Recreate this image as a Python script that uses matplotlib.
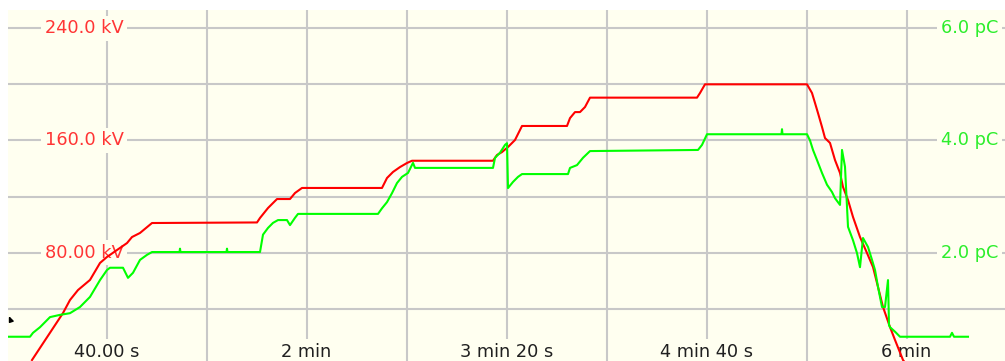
import matplotlib
matplotlib.use("Agg")
import matplotlib.pyplot as plt
import matplotlib.transforms as mtransforms

# test voltage (kV) against time (s)
kv_time = [10.2, 22.6, 25.4, 28.6, 33.4, 37.4, 40.2, 48.2, 50.2, 53.4, 58.2,
           100.2, 101.4, 104.6, 108.2, 113.4, 115.4, 118.2, 150.2, 152.2,
           154.6, 157.4, 160.2, 162.2, 194.6, 196.2, 198.2, 200.6, 203.4,
           206.2, 224.2, 225.4, 227.4, 229.4, 231.4, 233.4, 276.2, 277.4,
           279.4, 320.2, 322.2, 323.4, 324.6, 326.2, 327.4, 329.4, 331.4,
           333.4, 334.6, 336.6, 338.6, 341.4, 344.2, 346.6, 348.6, 350.6,
           353.4, 355.4, 358.6, 362.2]
kv_vals = [3.4, 36.9, 46.2, 53.3, 60.5, 72.6, 76.9, 86.8, 91.1, 94.0, 101.1,
           101.5, 104.7, 111.8, 118.2, 118.2, 122.5, 126.1, 126.1, 133.2,
           137.5, 141.0, 143.9, 145.5, 145.5, 149.6, 151.7, 155.3, 160.3,
           170.3, 170.3, 175.9, 180.2, 180.2, 183.8, 190.5, 190.5, 193.8,
           200.0, 200.0, 193.8, 186.7, 179.5, 169.6, 161.7, 158.2, 146.0,
           136.8, 126.8, 117.5, 105.4, 91.1, 79.7, 69.7, 55.5, 41.2, 26.9,
           17.7, 3.4, -5.0]

# partial discharge level (pC) against time (s)
pc_time = [0.6, 9.4, 10.6, 13.4, 17.4, 21.4, 25.4, 29.4, 33.4, 37.4, 40.2,
           41.4, 46.6, 48.6, 50.6, 53.4, 56.2, 58.2, 69.2, 69.4, 69.6, 88.0,
           88.2, 88.4, 101.4, 102.6, 104.6, 106.6, 108.6, 112.2, 113.4,
           115.4, 116.6, 148.6, 150.2, 152.2, 154.2, 156.2, 158.2, 160.6,
           162.6, 163.4, 194.6, 195.4, 197.4, 199.4, 200.2, 200.6, 202.6,
           204.6, 206.2, 224.6, 225.4, 228.2, 230.6, 233.4, 276.6, 278.2,
           280.2, 310.0, 310.2, 310.4, 320.2, 321.4, 322.6, 324.2, 326.2,
           328.2, 330.2, 331.4, 333.4, 334.2, 335.4, 336.6, 338.6, 340.2,
           341.4, 342.6, 344.6, 346.2, 347.4, 348.6, 350.2, 351.4, 352.6,
           353.0, 353.4, 355.4, 357.4, 377.4, 378.2, 379.0, 384.6]
pc_vals = [0.50, 0.50, 0.57, 0.67, 0.85, 0.89, 0.92, 1.03, 1.21, 1.51, 1.69,
           1.73, 1.73, 1.55, 1.64, 1.87, 1.96, 2.01, 2.01, 2.07, 2.01, 2.01,
           2.07, 2.01, 2.01, 2.32, 2.44, 2.53, 2.58, 2.58, 2.49, 2.62, 2.69,
           2.69, 2.79, 2.90, 3.06, 3.24, 3.35, 3.42, 3.60, 3.51, 3.51, 3.69,
           3.78, 3.92, 3.95, 3.15, 3.26, 3.35, 3.40, 3.40, 3.51, 3.56, 3.69,
           3.81, 3.83, 3.92, 4.11, 4.11, 4.20, 4.11, 4.11, 4.00, 3.83, 3.65,
           3.42, 3.21, 3.08, 2.97, 2.85, 3.83, 3.53, 2.46, 2.22, 1.99, 1.74,
           2.26, 2.10, 1.87, 1.69, 1.39, 1.03, 1.03, 1.51, 0.71, 0.67, 0.59,
           0.50, 0.50, 0.57, 0.50, 0.50]

kv_ticks = [80, 160, 240]
kv_labels = ["80.00 kV", "160.0 kV", "240.0 kV"]
pc_ticks = [2.0, 4.0, 6.0]
pc_labels = ["2.0 pC", "4.0 pC", "6.0 pC"]
time_ticks = [40, 120, 200, 280, 360]
time_labels = ["40.00 s", "2 min", "3 min 20 s", "4 min 40 s", "6 min"]

BG = "#FFFFF0"
GRID = "#C8C8C8"
W, H = 1005, 361

fig = plt.figure(figsize=(W / 100, H / 100), dpi=100)
fig.patch.set_facecolor("white")
ax = fig.add_axes([8 / W, 0, (W - 8) / W, (H - 10) / H])
ax.set_facecolor(BG)
ax.set_xlim(0.6, 399.4)
ax.set_ylim(2.7, 253.0)

ax2 = ax.twinx()
ax2.set_ylim(2.7 / 40, 253.0 / 40)

for a in (ax, ax2):
    for s in a.spines.values():
        s.set_visible(False)
    a.set_xticks([])
    a.set_yticks([])

# grid
for t in range(40, 400, 40):
    ax.axvline(t, color=GRID, lw=1.5, zorder=1)
for v in range(40, 280, 40):
    ax.axhline(v, color=GRID, lw=1.5, zorder=1)

box = dict(boxstyle="square,pad=0.2", fc=BG, ec="none")
fs = 12.8

left_tr = mtransforms.blended_transform_factory(ax.transAxes, ax.transData)
for v, lab in zip(kv_ticks, kv_labels):
    ax.text(37 / 997, v, lab, transform=left_tr, ha="left", va="center",
            color="#FF3535", fontsize=fs, bbox=box, zorder=2)

right_tr = mtransforms.blended_transform_factory(ax2.transAxes, ax2.transData)
for v, lab in zip(pc_ticks, pc_labels):
    ax2.text(990 / 997, v, lab, transform=right_tr, ha="right", va="center",
             color="#2CEE2C", fontsize=fs, bbox=box, zorder=2)

bot_tr = mtransforms.blended_transform_factory(ax.transData, ax.transAxes)
for t, lab in zip(time_ticks, time_labels):
    ax.text(t, 9 / 351, lab, transform=bot_tr, ha="center", va="center",
            color="#202020", fontsize=fs, bbox=box, zorder=2)

ax.plot(kv_time, kv_vals, color="#FF0000", lw=1.5, zorder=5)
ax2.plot(pc_time, pc_vals, color="#00FF00", lw=1.5, zorder=5)

# mouse cursor tip at the left edge
cursor = [(0, 0), (0, -1), (0.75, -0.75), (0, 0)]
ax.plot([1.0], [34.0], marker=cursor, color="black", ms=7, zorder=6,
        clip_on=False)

fig.savefig("out.png", dpi=100, facecolor="white")
